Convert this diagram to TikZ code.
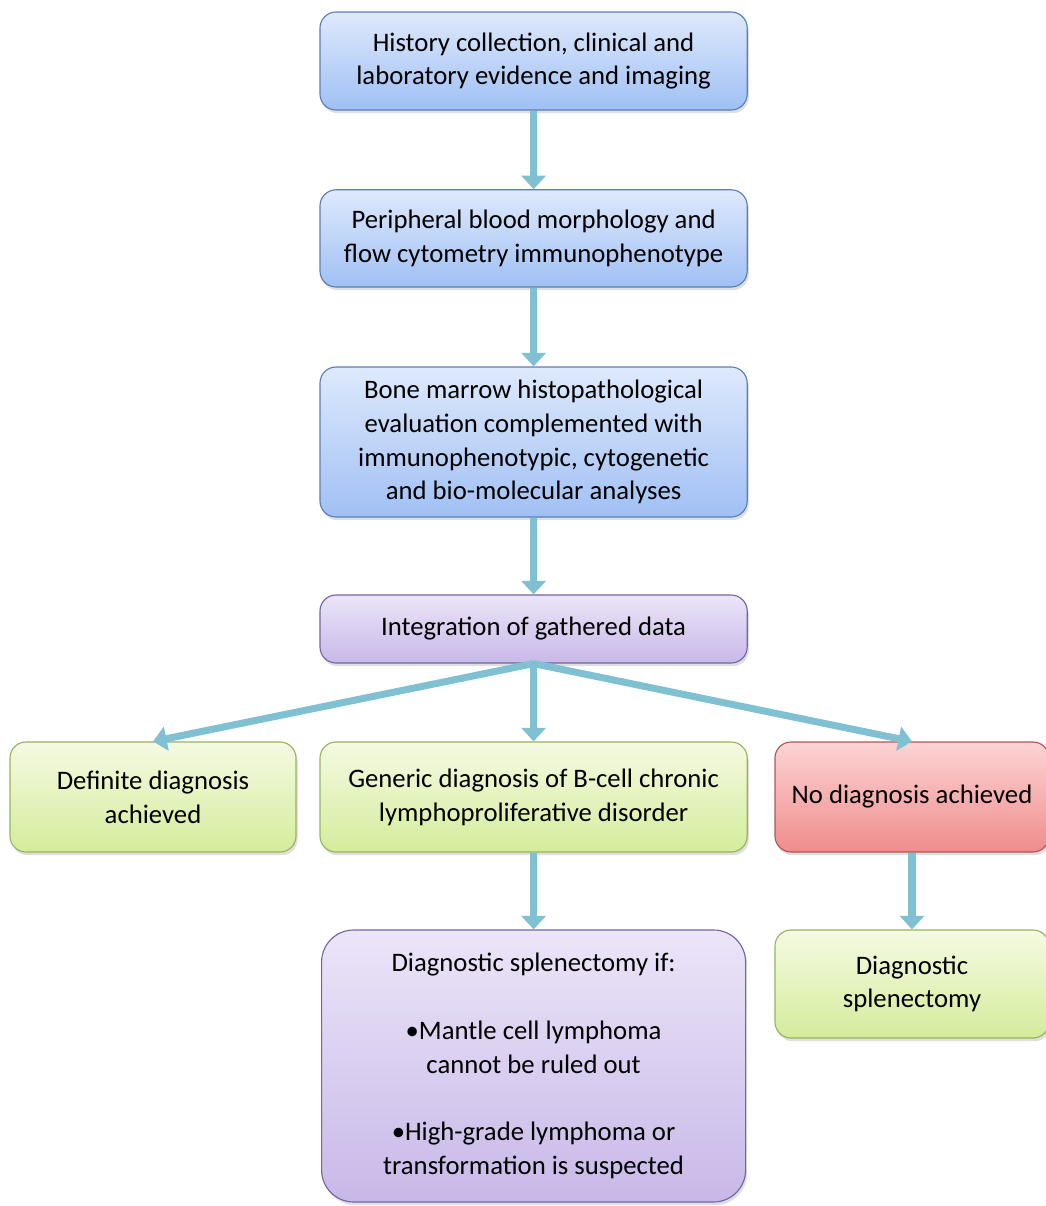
\documentclass[tikz,border=0pt]{standalone}
\usepackage{fontspec}
\setmainfont{Carlito}
\usepackage{tikz}
\usetikzlibrary{positioning,arrows.meta,shadows}
\definecolor{blueedge}{RGB}{92,125,180}
\definecolor{bluetop}{RGB}{222,233,252}
\definecolor{bluebot}{RGB}{160,192,244}
\definecolor{purpedge}{RGB}{118,100,160}
\definecolor{purptop}{RGB}{236,229,248}
\definecolor{purpbot}{RGB}{200,184,232}
\definecolor{greenedge}{RGB}{150,180,95}
\definecolor{greentop}{RGB}{245,250,226}
\definecolor{greenbot}{RGB}{212,236,155}
\definecolor{rededge}{RGB}{175,85,85}
\definecolor{redtop}{RGB}{252,212,212}
\definecolor{redbot}{RGB}{240,140,140}
\definecolor{flowcol}{RGB}{127,193,211}
\tikzset{
  box/.style={thick,rounded corners=4mm,align=center,inner sep=0pt,
    font=\fontsize{19}{24}\selectfont,
    drop shadow={opacity=0.25,shadow xshift=0.04cm,shadow yshift=-0.08cm}},
  stepb/.style={box,draw=blueedge,top color=bluetop,bottom color=bluebot},
  merge/.style={box,draw=purpedge,top color=purptop,bottom color=purpbot},
  okbox/.style={box,draw=greenedge,top color=greentop,bottom color=greenbot},
  failbox/.style={box,draw=rededge,top color=redtop,bottom color=redbot},
  flow/.style={flowcol,line width=5pt,-{Triangle[width=0.6cm,length=0.34cm]}}
}
\begin{document}
\begin{tikzpicture}
  \useasboundingbox (0,0) rectangle (26.15,-30.15);
  % work-up chain
  \node[stepb,minimum width=10.68cm,minimum height=2.45cm] (hist) at (13.34,-1.525)
    {History collection, clinical and\\laboratory evidence and imaging};
  \node[stepb,minimum width=10.68cm,minimum height=2.43cm] (blood) at (13.34,-5.96)
    {Peripheral blood morphology and\\flow cytometry immunophenotype};
  \node[stepb,minimum width=10.68cm,minimum height=3.75cm] (marrow) at (13.34,-11.05)
    {Bone marrow histopathological\\evaluation complemented with\\immunophenotypic, cytogenetic\\and bio-molecular analyses};
  \node[merge,minimum width=10.68cm,minimum height=1.7cm] (integ) at (13.34,-15.725)
    {Integration of gathered data};
  % outcomes
  \node[okbox,minimum width=7.15cm,minimum height=2.75cm] (definite) at (3.825,-19.925)
    {Definite diagnosis\\achieved};
  \node[okbox,minimum width=10.68cm,minimum height=2.75cm] (generic) at (13.34,-19.925)
    {Generic diagnosis of B-cell chronic\\lymphoproliferative disorder};
  \node[failbox,minimum width=6.85cm,minimum height=2.75cm] (nodiag) at (22.8,-19.925)
    {No diagnosis achieved};
  \node[merge,rounded corners=8mm,minimum width=10.6cm,minimum height=6.8cm] (ifsplen) at (13.34,-26.65)
    {Diagnostic splenectomy if:\\[24pt]•Mantle cell lymphoma\\cannot be ruled out\\[24pt]•High-grade lymphoma or\\transformation is suspected};
  \node[okbox,minimum width=6.85cm,minimum height=2.7cm] (splen) at (22.8,-24.6)
    {Diagnostic\\splenectomy};
  % connectors
  \draw[flow] (hist)--(blood);
  \draw[flow] (blood)--(marrow);
  \draw[flow] (marrow)--(integ);
  \draw[flow] (integ.south)--(definite.north);
  \draw[flow] (integ.south)--(generic.north);
  \draw[flow] (integ.south)--(nodiag.north);
  \draw[flow] (generic)--(ifsplen);
  \draw[flow] (nodiag)--(splen);
\end{tikzpicture}
\end{document}
